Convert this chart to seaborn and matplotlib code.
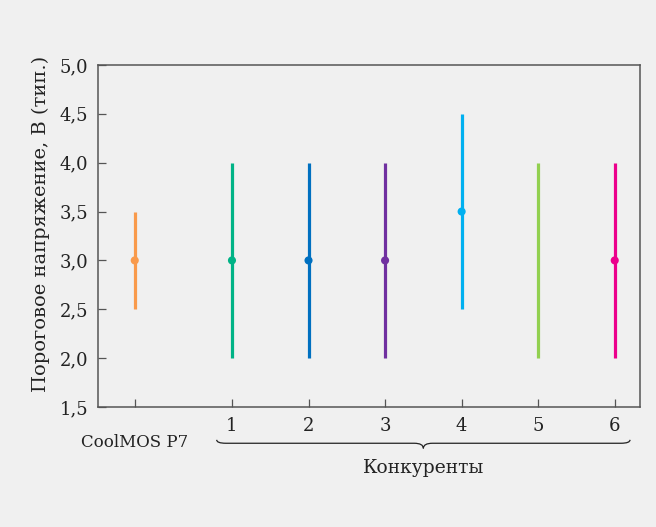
import numpy as np
import pandas as pd
import matplotlib
matplotlib.use("Agg")
import matplotlib.pyplot as plt
import seaborn as sns
from matplotlib.path import Path
from matplotlib.patches import PathPatch
import matplotlib.transforms as mtransforms
from matplotlib.ticker import FuncFormatter, MultipleLocator

# Data
names = ["CoolMOS P7", "1", "2", "3", "4", "5", "6"]
positions = [-0.27, 1, 2, 3, 4, 5, 6]
v_min = [2.5, 2.0, 2.0, 2.0, 2.5, 2.0, 2.0]
v_max = [3.5, 4.0, 4.0, 4.0, 4.5, 4.0, 4.0]
v_typ = [3.0, 3.0, 3.0, 3.0, 3.5, np.nan, 3.0]
colors = ["#f99a4b", "#00b386", "#0070c0", "#7030a0", "#00b0f0", "#92d050", "#ec008c"]
ylabel = "Пороговое напряжение, В (тип.)"
group_label = "Конкуренты"

df = pd.DataFrame({"name": names, "pos": positions, "vmin": v_min,
                   "vmax": v_max, "typ": v_typ, "color": colors})

sns.set_theme(style="ticks")
plt.rcParams["font.family"] = ["DejaVu Serif"]
bg = "#f0f0f0"
txt = "#222222"
fig = plt.figure(figsize=(6.56, 5.27), dpi=100, facecolor=bg)
ax = fig.add_axes([98/656, 1-407/527, (640-98)/656, (407-65)/527])
ax.set_facecolor(bg)

ax.vlines(df["pos"], df["vmin"], df["vmax"], colors=df["color"], linewidth=2.3, zorder=2)
sns.scatterplot(data=df.dropna(subset=["typ"]), x="pos", y="typ", hue="name",
                palette=dict(zip(names, colors)), s=34, edgecolor="none",
                legend=False, ax=ax, zorder=3)

ax.set_xlim(-0.75, 6.33)
ax.set_ylim(1.5, 5.0)
ax.yaxis.set_major_locator(MultipleLocator(0.5))
ax.yaxis.set_major_formatter(FuncFormatter(lambda v, p: f"{v:.1f}".replace(".", ",")))
ax.set_xticks(positions)
ax.set_xticklabels([""] + names[1:])
ax.set_xlabel("")
ax.set_ylabel(ylabel, fontsize=14, color=txt)
ax.yaxis.set_label_coords(-0.088, 0.535)
ax.tick_params(axis="both", direction="in", length=6, width=0.9, color="#555555",
               labelsize=13, labelcolor=txt)
ax.tick_params(axis="y", pad=7)
ax.tick_params(axis="x", pad=7)
for s in ax.spines.values():
    s.set_color("#555555")
    s.set_linewidth(1.1)

trans = mtransforms.blended_transform_factory(ax.transData, ax.transAxes)
ax.text(positions[0], -0.105, names[0], transform=trans, ha="center", va="center",
        fontsize=12, color=txt)

# brace under the competitors
x0, x1 = 0.8, 6.2
xc = (x0 + x1) / 2
yt, ym, yb = -0.096, -0.106, -0.121
d = 0.12
verts = [(x0, yt), (x0, ym), (x0 + d, ym),
         (xc - d, ym), (xc, ym), (xc, yb),
         (xc, ym), (xc + d, ym),
         (x1 - d, ym), (x1, ym), (x1, yt)]
codes = [Path.MOVETO, Path.CURVE3, Path.CURVE3,
         Path.LINETO, Path.CURVE3, Path.CURVE3,
         Path.CURVE3, Path.CURVE3,
         Path.LINETO, Path.CURVE3, Path.CURVE3]
patch = PathPatch(Path(verts, codes), transform=trans, fill=False,
                  edgecolor=txt, linewidth=0.9, clip_on=False)
ax.add_patch(patch)
ax.text(xc, -0.178, group_label, transform=trans, ha="center", va="center",
        fontsize=13.5, color=txt)

fig.savefig("out.png", dpi=100, facecolor=bg)
